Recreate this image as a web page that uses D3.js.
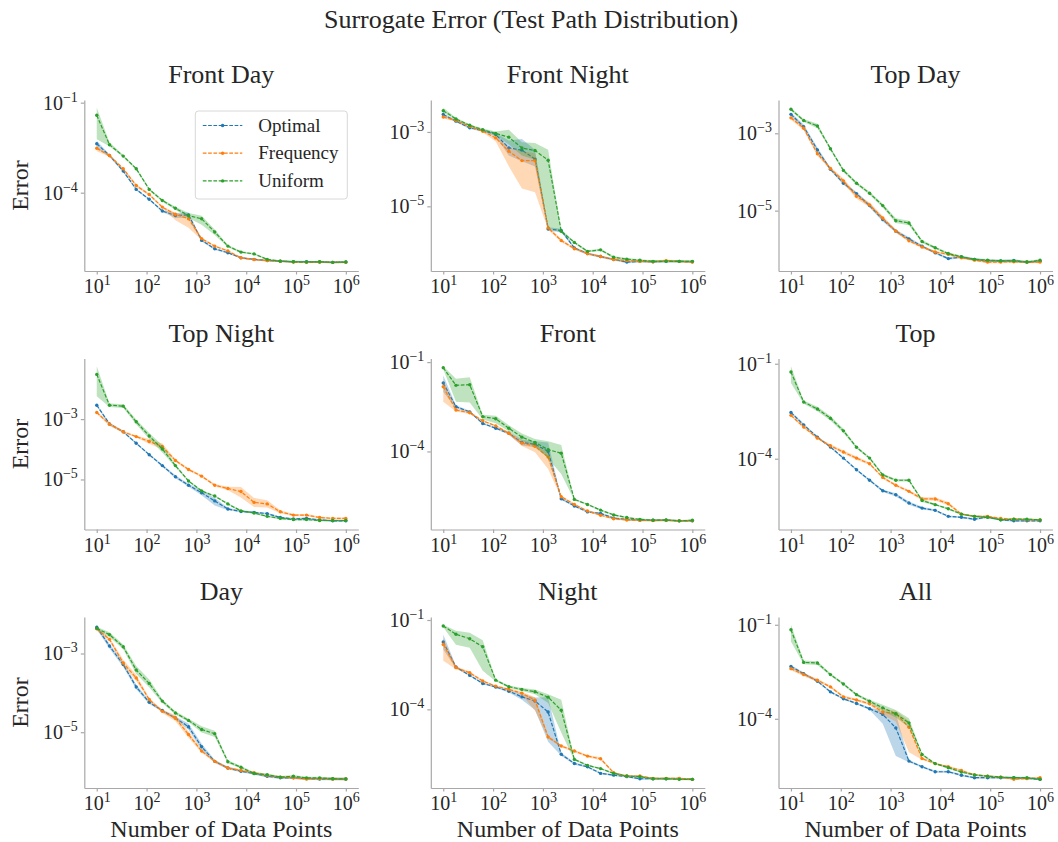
<!DOCTYPE html>
<html>
<head>
<meta charset="utf-8">
<script src="https://cdn.jsdelivr.net/npm/d3@7"></script>
<style>
body { margin: 0; background: #fff; }
text { font-family: "Liberation Serif", "Times New Roman", serif; fill: #262626; }
</style>
</head>
<body>
<svg width="1058" height="842"></svg>
<script>
// training set sizes (x), same for every panel
const sizes = [10, 18, 34, 62, 113, 207, 379, 695, 1274, 2336, 4281, 7848, 14384, 26367, 48329, 88587, 162378, 297635, 545559, 1000000]
const methods = ["Optimal", "Frequency", "Uniform"]
const colors = ["#1f77b4", "#ff7f0e", "#2ca02c"]
const panelTitles = ["Front Day", "Front Night", "Top Day", "Top Night", "Front", "Top", "Day", "Night", "All"]
const xTickExps = [1, 2, 3, 4, 5, 6]
const yTickExps = [[-1, -4], [-3, -5], [-3, -5], [-3, -5], [-1, -4], [-1, -4], [-3, -5], [-1, -4], [-1, -4]]

// mean error, stored as log10(error)
// band = how many decades the shaded interval reaches above (Hi) / below (Lo) the mean
// Front Day
const fdOpt  = [-2.37, -2.76, -3.28, -3.89, -4.22, -4.61, -4.76, -4.74, -5.59, -5.87, -6.00, -6.17, -6.22, -6.26, -6.28, -6.30, -6.30, -6.31, -6.32, -6.31]
const fdFreq = [-2.52, -2.76, -3.20, -3.76, -4.06, -4.48, -4.72, -4.87, -5.53, -5.78, -5.94, -6.17, -6.23, -6.26, -6.28, -6.31, -6.32, -6.31, -6.32, -6.32]
const fdUnif = [-1.42, -2.40, -2.78, -3.20, -3.89, -4.26, -4.52, -4.76, -4.87, -5.31, -5.78, -5.98, -6.04, -6.22, -6.28, -6.30, -6.31, -6.30, -6.32, -6.31]
const fdOptHi  = [0.10, 0.04, 0.04, 0.03, 0.03, 0.03, 0.08, 0.08, 0.03, 0.03, 0.03, 0.03, 0.03, 0.03, 0.03, 0.03, 0.03, 0.03, 0.03, 0.03]
const fdOptLo  = [0.15, 0.05, 0.04, 0.04, 0.03, 0.03, 0.08, 0.10, 0.04, 0.04, 0.03, 0.03, 0.03, 0.03, 0.03, 0.03, 0.03, 0.03, 0.03, 0.03]
const fdFreqHi = [0.05, 0.03, 0.03, 0.05, 0.03, 0.03, 0.05, 0.10, 0.03, 0.03, 0.03, 0.03, 0.03, 0.03, 0.03, 0.03, 0.03, 0.03, 0.03, 0.03]
const fdFreqLo = [0.10, 0.04, 0.04, 0.06, 0.04, 0.03, 0.20, 0.30, 0.05, 0.03, 0.03, 0.03, 0.03, 0.03, 0.03, 0.03, 0.03, 0.03, 0.03, 0.03]
const fdUnifHi = [0.25, 0.08, 0.04, 0.04, 0.04, 0.04, 0.05, 0.08, 0.10, 0.08, 0.04, 0.04, 0.03, 0.03, 0.03, 0.03, 0.03, 0.03, 0.03, 0.03]
const fdUnifLo = [0.80, 0.05, 0.04, 0.04, 0.04, 0.04, 0.05, 0.08, 0.20, 0.10, 0.04, 0.04, 0.03, 0.03, 0.03, 0.03, 0.03, 0.03, 0.03, 0.03]

// Front Night
const fnOpt  = [-2.53, -2.71, -2.89, -2.96, -3.07, -3.43, -3.49, -3.73, -5.61, -5.65, -6.12, -6.27, -6.35, -6.43, -6.50, -6.48, -6.49, -6.48, -6.48, -6.49]
const fnFreq = [-2.60, -2.69, -2.85, -2.98, -3.16, -3.52, -3.77, -3.77, -5.58, -5.92, -6.14, -6.27, -6.35, -6.43, -6.46, -6.48, -6.49, -6.46, -6.48, -6.50]
const fnUnif = [-2.43, -2.65, -2.82, -2.94, -3.04, -3.14, -3.43, -3.50, -3.76, -5.67, -5.97, -6.21, -6.17, -6.37, -6.42, -6.45, -6.48, -6.48, -6.48, -6.48]
const fnOptHi  = [0.03, 0.03, 0.03, 0.03, 0.05, 0.20, 0.30, 0.25, 0.05, 0.05, 0.03, 0.03, 0.03, 0.03, 0.03, 0.03, 0.03, 0.03, 0.03, 0.03]
const fnOptLo  = [0.03, 0.03, 0.03, 0.03, 0.05, 0.20, 0.30, 0.20, 0.05, 0.05, 0.03, 0.03, 0.03, 0.03, 0.03, 0.03, 0.03, 0.03, 0.03, 0.03]
const fnFreqHi = [0.04, 0.03, 0.03, 0.03, 0.05, 0.10, 0.25, 0.20, 0.05, 0.04, 0.03, 0.03, 0.03, 0.03, 0.03, 0.03, 0.03, 0.03, 0.03, 0.03]
const fnFreqLo = [0.04, 0.03, 0.03, 0.03, 0.10, 0.40, 0.75, 0.85, 0.05, 0.04, 0.03, 0.03, 0.03, 0.03, 0.03, 0.03, 0.03, 0.03, 0.03, 0.03]
const fnUnifHi = [0.08, 0.03, 0.03, 0.03, 0.05, 0.20, 0.15, 0.20, 0.28, 0.05, 0.03, 0.03, 0.03, 0.03, 0.03, 0.03, 0.03, 0.03, 0.03, 0.03]
const fnUnifLo = [0.05, 0.03, 0.03, 0.03, 0.05, 0.20, 0.20, 0.25, 1.80, 0.05, 0.03, 0.03, 0.03, 0.03, 0.03, 0.03, 0.03, 0.03, 0.03, 0.03]

// Top Day
const tdOpt  = [-2.51, -2.83, -3.43, -3.93, -4.29, -4.56, -4.87, -5.23, -5.53, -5.73, -5.92, -6.09, -6.24, -6.20, -6.26, -6.30, -6.30, -6.29, -6.33, -6.31]
const tdFreq = [-2.60, -2.87, -3.53, -3.91, -4.23, -4.63, -4.85, -5.19, -5.53, -5.78, -5.94, -6.07, -6.13, -6.22, -6.28, -6.33, -6.33, -6.32, -6.33, -6.33]
const tdUnif = [-2.38, -2.67, -2.81, -3.40, -3.96, -4.29, -4.55, -4.87, -5.26, -5.32, -5.80, -5.96, -6.11, -6.19, -6.26, -6.28, -6.30, -6.30, -6.33, -6.28]
const tdOptBand  = [0.05, 0.06, 0.06, 0.04, 0.04, 0.04, 0.05, 0.05, 0.04, 0.04, 0.03, 0.03, 0.03, 0.03, 0.03, 0.03, 0.03, 0.03, 0.03, 0.03]
const tdFreqBand = [0.05, 0.05, 0.05, 0.04, 0.06, 0.06, 0.06, 0.05, 0.04, 0.03, 0.03, 0.03, 0.03, 0.03, 0.03, 0.03, 0.03, 0.03, 0.03, 0.03]
const tdUnifBand = [0.04, 0.04, 0.06, 0.04, 0.04, 0.04, 0.04, 0.05, 0.06, 0.06, 0.04, 0.03, 0.03, 0.03, 0.03, 0.03, 0.03, 0.03, 0.03, 0.03]

// Top Night
const tnOpt  = [-2.54, -3.16, -3.42, -3.80, -4.18, -4.54, -4.91, -5.19, -5.44, -5.71, -5.98, -6.06, -6.09, -6.13, -6.26, -6.31, -6.29, -6.34, -6.37, -6.37]
const tnFreq = [-2.78, -3.17, -3.42, -3.58, -3.74, -3.91, -4.37, -4.67, -4.89, -5.19, -5.30, -5.40, -5.76, -5.81, -6.07, -6.18, -6.18, -6.26, -6.29, -6.29]
const tnUnif = [-1.52, -2.54, -2.57, -3.09, -3.56, -3.99, -4.54, -5.05, -5.38, -5.55, -5.81, -6.04, -6.11, -6.22, -6.29, -6.33, -6.33, -6.36, -6.36, -6.36]
const tnOptHi  = [0.04, 0.04, 0.03, 0.03, 0.03, 0.04, 0.05, 0.05, 0.08, 0.10, 0.04, 0.03, 0.03, 0.03, 0.03, 0.03, 0.03, 0.03, 0.03, 0.03]
const tnOptLo  = [0.04, 0.04, 0.03, 0.03, 0.03, 0.04, 0.05, 0.05, 0.08, 0.15, 0.04, 0.03, 0.03, 0.03, 0.03, 0.03, 0.03, 0.03, 0.03, 0.03]
const tnFreqHi = [0.04, 0.06, 0.04, 0.03, 0.08, 0.10, 0.04, 0.04, 0.04, 0.04, 0.06, 0.15, 0.15, 0.12, 0.05, 0.04, 0.04, 0.03, 0.03, 0.03]
const tnFreqLo = [0.04, 0.06, 0.04, 0.03, 0.08, 0.10, 0.04, 0.04, 0.04, 0.04, 0.06, 0.20, 0.15, 0.12, 0.05, 0.04, 0.04, 0.03, 0.03, 0.03]
const tnUnifHi = [0.27, 0.06, 0.06, 0.08, 0.10, 0.12, 0.05, 0.03, 0.03, 0.03, 0.03, 0.03, 0.03, 0.03, 0.03, 0.03, 0.03, 0.03, 0.03, 0.03]
const tnUnifLo = [0.72, 0.06, 0.06, 0.08, 0.10, 0.12, 0.05, 0.03, 0.03, 0.03, 0.03, 0.03, 0.03, 0.03, 0.03, 0.03, 0.03, 0.03, 0.03, 0.03]

// Front
const frOpt  = [-1.70, -2.50, -2.67, -3.06, -3.22, -3.39, -3.70, -3.76, -4.00, -5.59, -5.83, -6.03, -6.08, -6.24, -6.28, -6.31, -6.31, -6.31, -6.33, -6.33]
const frFreq = [-1.83, -2.61, -2.70, -2.97, -3.14, -3.39, -3.72, -3.83, -4.19, -5.52, -5.78, -6.00, -6.14, -6.26, -6.30, -6.31, -6.32, -6.31, -6.33, -6.33]
const frUnif = [-1.19, -1.78, -1.76, -2.83, -2.90, -3.22, -3.52, -3.70, -3.94, -4.06, -5.61, -5.78, -5.97, -6.13, -6.22, -6.28, -6.31, -6.30, -6.33, -6.31]
const frOptHi  = [0.25, 0.05, 0.04, 0.03, 0.03, 0.05, 0.10, 0.10, 0.30, 0.04, 0.03, 0.03, 0.03, 0.03, 0.03, 0.03, 0.03, 0.03, 0.03, 0.03]
const frOptLo  = [0.30, 0.05, 0.04, 0.03, 0.03, 0.05, 0.10, 0.10, 0.20, 0.04, 0.03, 0.03, 0.03, 0.03, 0.03, 0.03, 0.03, 0.03, 0.03, 0.03]
const frFreqHi = [0.20, 0.05, 0.04, 0.03, 0.03, 0.05, 0.10, 0.10, 0.15, 0.04, 0.03, 0.03, 0.03, 0.03, 0.03, 0.03, 0.03, 0.03, 0.03, 0.03]
const frFreqLo = [0.50, 0.05, 0.04, 0.03, 0.03, 0.05, 0.10, 0.20, 0.40, 0.04, 0.03, 0.03, 0.03, 0.03, 0.03, 0.03, 0.03, 0.03, 0.03, 0.03]
const frUnifHi = [0.05, 0.22, 0.25, 0.06, 0.10, 0.10, 0.12, 0.12, 0.28, 0.28, 0.03, 0.03, 0.03, 0.03, 0.03, 0.03, 0.03, 0.03, 0.03, 0.03]
const frUnifLo = [0.05, 0.55, 0.60, 0.10, 0.15, 0.10, 0.12, 0.12, 0.30, 0.70, 0.03, 0.03, 0.03, 0.03, 0.03, 0.03, 0.03, 0.03, 0.03, 0.03]

// Top
const tpOpt  = [-2.54, -2.93, -3.32, -3.63, -3.98, -4.35, -4.68, -5.01, -5.14, -5.40, -5.56, -5.63, -5.82, -5.85, -5.91, -5.84, -5.93, -5.96, -5.96, -5.96]
const tpFreq = [-2.63, -3.00, -3.35, -3.59, -3.79, -3.98, -4.16, -4.59, -4.84, -5.03, -5.27, -5.27, -5.42, -5.75, -5.82, -5.82, -5.89, -5.91, -5.93, -5.93]
const tpUnif = [-1.26, -2.21, -2.43, -2.72, -3.12, -3.64, -3.98, -4.51, -4.68, -4.68, -5.32, -5.45, -5.58, -5.75, -5.82, -5.85, -5.93, -5.91, -5.91, -5.93]
const tpOptBand  = [0.04, 0.04, 0.03, 0.03, 0.03, 0.03, 0.03, 0.04, 0.05, 0.05, 0.04, 0.03, 0.03, 0.03, 0.03, 0.03, 0.03, 0.03, 0.03, 0.03]
const tpFreqBand = [0.04, 0.04, 0.03, 0.05, 0.05, 0.05, 0.04, 0.04, 0.04, 0.04, 0.05, 0.05, 0.05, 0.03, 0.03, 0.03, 0.03, 0.03, 0.03, 0.03]
const tpUnifHi = [0.18, 0.05, 0.07, 0.07, 0.07, 0.04, 0.04, 0.04, 0.04, 0.04, 0.05, 0.03, 0.03, 0.03, 0.03, 0.03, 0.03, 0.03, 0.03, 0.03]
const tpUnifLo = [0.35, 0.05, 0.07, 0.07, 0.07, 0.04, 0.04, 0.04, 0.04, 0.04, 0.05, 0.03, 0.03, 0.03, 0.03, 0.03, 0.03, 0.03, 0.03, 0.03]

// Day
const dyOpt  = [-2.33, -2.81, -3.28, -3.85, -4.24, -4.45, -4.64, -4.86, -5.37, -5.74, -5.91, -5.99, -6.05, -6.12, -6.16, -6.16, -6.18, -6.19, -6.19, -6.19]
const dyFreq = [-2.37, -2.64, -3.24, -3.62, -4.17, -4.47, -4.64, -5.06, -5.48, -5.74, -5.91, -5.97, -6.03, -6.10, -6.14, -6.16, -6.19, -6.18, -6.19, -6.19]
const dyUnif = [-2.36, -2.52, -2.83, -3.42, -3.76, -4.21, -4.51, -4.70, -4.93, -5.04, -5.75, -5.89, -6.05, -6.08, -6.14, -6.12, -6.16, -6.16, -6.18, -6.19]
const dyOptBand  = [0.06, 0.06, 0.06, 0.06, 0.04, 0.03, 0.04, 0.08, 0.08, 0.04, 0.03, 0.03, 0.03, 0.03, 0.03, 0.03, 0.03, 0.03, 0.03, 0.03]
const dyFreqBand = [0.05, 0.04, 0.08, 0.08, 0.04, 0.04, 0.08, 0.08, 0.04, 0.03, 0.03, 0.03, 0.03, 0.03, 0.03, 0.03, 0.03, 0.03, 0.03, 0.03]
const dyUnifBand = [0.04, 0.06, 0.06, 0.10, 0.10, 0.05, 0.04, 0.04, 0.08, 0.08, 0.04, 0.03, 0.03, 0.03, 0.03, 0.03, 0.03, 0.03, 0.03, 0.03]

// Night
const ntOpt  = [-1.74, -2.58, -2.86, -3.13, -3.25, -3.39, -3.58, -3.72, -4.09, -5.51, -5.82, -5.93, -6.15, -6.21, -6.26, -6.33, -6.33, -6.33, -6.33, -6.35]
const ntFreq = [-1.82, -2.60, -2.77, -3.05, -3.22, -3.33, -3.46, -3.69, -4.93, -5.23, -5.40, -5.57, -5.66, -6.13, -6.24, -6.24, -6.32, -6.32, -6.32, -6.35]
const ntUnif = [-1.20, -1.48, -1.63, -1.90, -3.02, -3.24, -3.33, -3.41, -3.59, -4.03, -5.68, -5.88, -5.99, -6.15, -6.24, -6.26, -6.33, -6.33, -6.35, -6.35]
const ntOptHi  = [0.25, 0.04, 0.03, 0.03, 0.03, 0.04, 0.10, 0.12, 0.50, 0.05, 0.04, 0.03, 0.03, 0.03, 0.03, 0.03, 0.03, 0.03, 0.03, 0.03]
const ntOptLo  = [0.25, 0.04, 0.03, 0.03, 0.03, 0.04, 0.10, 0.30, 1.00, 0.05, 0.04, 0.03, 0.03, 0.03, 0.03, 0.03, 0.03, 0.03, 0.03, 0.03]
const ntFreqHi = [0.20, 0.05, 0.04, 0.03, 0.03, 0.04, 0.05, 0.10, 0.05, 0.04, 0.04, 0.04, 0.05, 0.03, 0.03, 0.03, 0.03, 0.03, 0.03, 0.03]
const ntFreqLo = [0.55, 0.05, 0.04, 0.03, 0.03, 0.04, 0.05, 0.35, 0.05, 0.04, 0.04, 0.04, 0.05, 0.03, 0.03, 0.03, 0.03, 0.03, 0.03, 0.03]
const ntUnifHi = [0.04, 0.12, 0.20, 0.22, 0.04, 0.04, 0.05, 0.08, 0.10, 0.35, 0.04, 0.03, 0.03, 0.03, 0.03, 0.03, 0.03, 0.03, 0.03, 0.03]
const ntUnifLo = [0.04, 0.35, 0.30, 0.80, 0.04, 0.04, 0.05, 0.08, 0.20, 0.75, 0.04, 0.03, 0.03, 0.03, 0.03, 0.03, 0.03, 0.03, 0.03, 0.03]

// All
const alOpt  = [-2.33, -2.56, -2.80, -3.14, -3.36, -3.51, -3.68, -3.86, -4.29, -5.35, -5.53, -5.69, -5.69, -5.80, -5.88, -5.88, -5.88, -5.88, -5.90, -5.93]
const alFreq = [-2.40, -2.59, -2.77, -2.98, -3.30, -3.40, -3.52, -3.78, -3.84, -4.27, -5.27, -5.43, -5.53, -5.65, -5.79, -5.83, -5.86, -5.93, -5.91, -5.88]
const alUnif = [-1.16, -2.20, -2.22, -2.59, -2.89, -3.23, -3.44, -3.65, -3.84, -4.13, -5.14, -5.43, -5.56, -5.70, -5.79, -5.83, -5.86, -5.88, -5.88, -5.93]
const alOptHi  = [0.05, 0.04, 0.03, 0.03, 0.03, 0.03, 0.04, 0.10, 0.45, 0.04, 0.03, 0.03, 0.03, 0.03, 0.03, 0.03, 0.03, 0.03, 0.03, 0.03]
const alOptLo  = [0.05, 0.04, 0.03, 0.03, 0.03, 0.03, 0.04, 0.30, 0.90, 0.04, 0.03, 0.03, 0.03, 0.03, 0.03, 0.03, 0.03, 0.03, 0.03, 0.03]
const alFreqHi = [0.05, 0.05, 0.05, 0.04, 0.04, 0.04, 0.05, 0.10, 0.10, 0.20, 0.04, 0.03, 0.03, 0.03, 0.03, 0.03, 0.03, 0.03, 0.03, 0.03]
const alFreqLo = [0.05, 0.05, 0.05, 0.04, 0.04, 0.04, 0.05, 0.10, 0.25, 0.80, 0.04, 0.03, 0.03, 0.03, 0.03, 0.03, 0.03, 0.03, 0.03, 0.03]
const alUnifHi = [0.16, 0.06, 0.06, 0.04, 0.04, 0.04, 0.05, 0.10, 0.12, 0.15, 0.04, 0.03, 0.03, 0.03, 0.03, 0.03, 0.03, 0.03, 0.03, 0.03]
const alUnifLo = [0.37, 0.06, 0.06, 0.04, 0.04, 0.04, 0.05, 0.10, 0.12, 0.15, 0.04, 0.03, 0.03, 0.03, 0.03, 0.03, 0.03, 0.03, 0.03, 0.03]

// one row per panel: [mean, hi, lo] for Optimal, Frequency, Uniform
const panelSeries = [
	[[fdOpt, fdOptHi, fdOptLo], [fdFreq, fdFreqHi, fdFreqLo], [fdUnif, fdUnifHi, fdUnifLo]],
	[[fnOpt, fnOptHi, fnOptLo], [fnFreq, fnFreqHi, fnFreqLo], [fnUnif, fnUnifHi, fnUnifLo]],
	[[tdOpt, tdOptBand, tdOptBand], [tdFreq, tdFreqBand, tdFreqBand], [tdUnif, tdUnifBand, tdUnifBand]],
	[[tnOpt, tnOptHi, tnOptLo], [tnFreq, tnFreqHi, tnFreqLo], [tnUnif, tnUnifHi, tnUnifLo]],
	[[frOpt, frOptHi, frOptLo], [frFreq, frFreqHi, frFreqLo], [frUnif, frUnifHi, frUnifLo]],
	[[tpOpt, tpOptBand, tpOptBand], [tpFreq, tpFreqBand, tpFreqBand], [tpUnif, tpUnifHi, tpUnifLo]],
	[[dyOpt, dyOptBand, dyOptBand], [dyFreq, dyFreqBand, dyFreqBand], [dyUnif, dyUnifBand, dyUnifBand]],
	[[ntOpt, ntOptHi, ntOptLo], [ntFreq, ntFreqHi, ntFreqLo], [ntUnif, ntUnifHi, ntUnifLo]],
	[[alOpt, alOptHi, alOptLo], [alFreq, alFreqHi, alFreqLo], [alUnif, alUnifHi, alUnifLo]],
]

// layout
const colLeft = [84.3, 430.8, 778.5]
const rowTop = [100, 358.5, 617]
const W = 274
const H = 171
const spineColor = "#a8a8a8"

const svg = d3.select("svg")

svg.append("text")
	.attr("x", 531)
	.attr("y", 28)
	.attr("text-anchor", "middle")
	.attr("font-size", 26)
	.text("Surrogate Error (Test Path Distribution)")

const x = d3.scaleLog().domain([10 ** 0.75, 10 ** 6.25]).range([0, W])

const supLabel = (sel) => {
	sel.text(null)
	sel.append("tspan").text("10")
	sel.append("tspan")
		.attr("dy", -8)
		.attr("font-size", 14)
		.text((d) => String(Math.round(Math.log10(d))).replace("-", "\u2212"))
}

panelSeries.forEach((series, p) => {
	const r = Math.floor(p / 3)
	const c = p % 3
	const g = svg.append("g").attr("transform", `translate(${colLeft[c]},${rowTop[r]})`)

	// y domain like matplotlib autoscale: data extent (incl. bands) + 5% in log space
	let lo = Infinity
	let hi = -Infinity
	series.forEach(([m, up, dn]) => {
		m.forEach((v, i) => {
			lo = Math.min(lo, v - dn[i])
			hi = Math.max(hi, v + up[i])
		})
	})
	const pad = (hi - lo) * 0.05
	const y = d3.scaleLog().domain([10 ** (lo - pad), 10 ** (hi + pad)]).range([H, 0])

	// bands then lines, one method at a time
	series.forEach(([m, up, dn], s) => {
		const pts = m.map((v, i) => ({ n: sizes[i], v: v, up: up[i], dn: dn[i] }))
		const area = d3.area()
			.x((d) => x(d.n))
			.y0((d) => y(10 ** (d.v - d.dn)))
			.y1((d) => y(10 ** (d.v + d.up)))
		const line = d3.line()
			.x((d) => x(d.n))
			.y((d) => y(10 ** d.v))

		g.append("path")
			.datum(pts)
			.attr("d", area)
			.attr("fill", colors[s])
			.attr("fill-opacity", 0.3)
			.attr("stroke", "none")

		g.append("path")
			.datum(pts)
			.attr("d", line)
			.attr("fill", "none")
			.attr("stroke", colors[s])
			.attr("stroke-width", 1.2)
			.attr("stroke-dasharray", "3.7,1.6")

		g.selectAll(null)
			.data(pts)
			.enter()
			.append("circle")
			.attr("cx", (d) => x(d.n))
			.attr("cy", (d) => y(10 ** d.v))
			.attr("r", 1.7)
			.attr("fill", colors[s])
	})

	// axes
	const xAxis = g.append("g")
		.attr("transform", `translate(0,${H})`)
		.call(d3.axisBottom(x).tickValues(xTickExps.map((e) => 10 ** e)).tickSize(3.5).tickSizeOuter(0).tickPadding(4.5))
	const yAxis = g.append("g")
		.call(d3.axisLeft(y).tickValues(yTickExps[p].map((e) => 10 ** e)).tickSize(3.5).tickSizeOuter(0).tickPadding(3))

	;[xAxis, yAxis].forEach((ax) => {
		ax.attr("font-size", null).attr("font-family", null)
		ax.select(".domain").attr("stroke", spineColor).attr("stroke-width", 1.2)
		ax.selectAll(".tick line").attr("stroke", spineColor).attr("stroke-width", 1.2)
		ax.selectAll(".tick text").attr("fill", "#262626").attr("font-size", 20).call(supLabel)
	})

	// panel title
	g.append("text")
		.attr("x", W / 2)
		.attr("y", -17)
		.attr("text-anchor", "middle")
		.attr("font-size", 26)
		.text(panelTitles[p])

	if (c === 0) {
		g.append("text")
			.attr("transform", `translate(${28 - colLeft[0]},${H / 2}) rotate(-90)`)
			.attr("text-anchor", "middle")
			.attr("font-size", 24)
			.text("Error")
	}
	if (r === 2) {
		g.append("text")
			.attr("x", W / 2)
			.attr("y", H + 49)
			.attr("text-anchor", "middle")
			.attr("font-size", 24)
			.text("Number of Data Points")
	}

	// legend sits in the first panel only
	if (p === 0) {
		const lg = g.append("g").attr("transform", "translate(111,11)")
		lg.append("rect")
			.attr("width", 152)
			.attr("height", 88)
			.attr("rx", 3)
			.attr("fill", "#fff")
			.attr("fill-opacity", 0.8)
			.attr("stroke", "#d8d8d8")
			.attr("stroke-width", 1)
		methods.forEach((name, s) => {
			const row = lg.append("g").attr("transform", `translate(0,${14.5 + s * 27.7})`)
			row.append("line")
				.attr("x1", 7.5)
				.attr("x2", 47)
				.attr("stroke", colors[s])
				.attr("stroke-width", 1.2)
				.attr("stroke-dasharray", "3.7,1.6")
			row.append("circle").attr("cx", 27.3).attr("r", 1.7).attr("fill", colors[s])
			row.append("text")
				.attr("x", 63)
				.attr("y", 6)
				.attr("font-size", 19)
				.text(name)
		})
	}
})
</script>
</body>
</html>
